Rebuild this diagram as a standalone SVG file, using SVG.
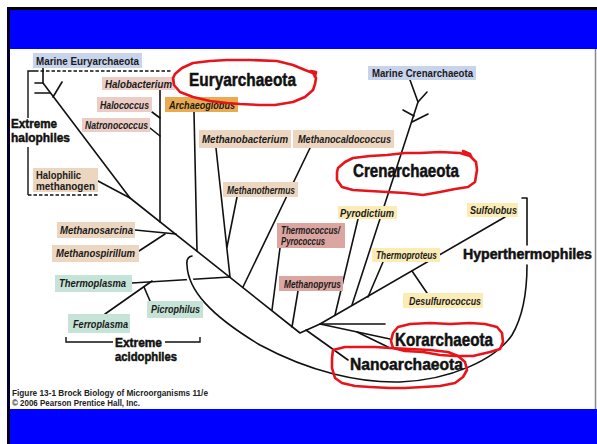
<svg xmlns="http://www.w3.org/2000/svg" width="597" height="444" viewBox="0 0 597 444">
<style>
.lb{font-family:"Liberation Sans",Arial,sans-serif;font-weight:bold;font-style:italic;font-size:10px;fill:#1a1a1a}
.lbn{font-family:"Liberation Sans",Arial,sans-serif;font-weight:bold;font-size:10px;fill:#1a1a1a}
.big{font-family:"Liberation Sans",Arial,sans-serif;font-weight:bold;fill:#111;stroke:#111;stroke-width:0.5}
.cap{font-family:"Liberation Sans",Arial,sans-serif;font-weight:bold;font-size:8.5px;fill:#222}
.ln{fill:none;stroke:#111;stroke-width:1.6;stroke-linecap:round;stroke-linejoin:round}
.red{fill:none;stroke:#e8141c;stroke-width:2.6;stroke-linejoin:round;stroke-linecap:round}
.blue{fill:#c8d3ec}.pink{fill:#ebcdc5}.tan{fill:#ecd6bf}.org{fill:#e9aa50}.sal{fill:#dba5a0}.yel{fill:#fbecb5}.grn{fill:#c5e3d6}
</style>
<rect x="0" y="0" width="597" height="444" fill="#fff"/>
<g id="frame">
<rect x="7" y="7" width="590" height="3" fill="#000"/>
<rect x="10" y="10" width="587" height="39" fill="#0000ff"/>
<rect x="10" y="409" width="587" height="35" fill="#0000ff"/>
<rect x="7" y="7" width="3" height="437" fill="#00002a"/>
<line x1="595.5" y1="49" x2="595.5" y2="409" stroke="#888" stroke-width="1.5"/>
</g>
<g id="connectors">
<polyline class="ln" points="43,68 43,83 130,198 300,333 320,324 505,217"/>
<line class="ln" x1="35" y1="83" x2="43" y2="83"/>
<line class="ln" x1="35" y1="93" x2="50" y2="93"/>
<line class="ln" x1="53" y1="97" x2="62" y2="82"/>
<line class="ln" x1="160" y1="90" x2="160" y2="222"/>
<line class="ln" x1="152" y1="112" x2="160" y2="118"/>
<line class="ln" x1="150" y1="128" x2="160" y2="136"/>
<line class="ln" x1="98" y1="181" x2="130" y2="198"/>
<line class="ln" x1="194" y1="112" x2="197" y2="251"/>
<line class="ln" x1="216" y1="148" x2="230" y2="277"/>
<line class="ln" x1="237" y1="197" x2="227" y2="247"/>
<line class="ln" x1="310" y1="148" x2="243" y2="287"/>
<line class="ln" x1="135" y1="230" x2="176" y2="234"/>
<line class="ln" x1="139" y1="251" x2="165" y2="234"/>
<line class="ln" x1="132" y1="283" x2="230" y2="277"/>
<line class="ln" x1="105" y1="314" x2="152" y2="281"/>
<line class="ln" x1="150" y1="301" x2="144" y2="287"/>
<line class="ln" x1="280" y1="248" x2="272" y2="310"/>
<line class="ln" x1="298" y1="291" x2="292" y2="327"/>
<line class="ln" x1="358" y1="219" x2="335" y2="315"/>
<polyline class="ln" points="410,80 418,102 352,305"/>
<line class="ln" x1="418" y1="102" x2="427" y2="92"/>
<line class="ln" x1="403" y1="110" x2="414" y2="116"/>
<line class="ln" x1="412" y1="122" x2="428" y2="114"/>
<line class="ln" x1="383" y1="262" x2="368" y2="297"/>
<line class="ln" x1="412" y1="271" x2="427" y2="293"/>
<line class="ln" x1="320" y1="324" x2="385" y2="324"/>
<line class="ln" x1="320" y1="324" x2="390" y2="339"/>
<line class="ln" x1="357" y1="332" x2="388" y2="347"/>
<line class="ln" x1="306" y1="330" x2="348" y2="360"/>
<path d="M192,256 Q186,257 187,265 C188,290 210,315 260,345 C310,372 360,383 400,382 C450,380 495,360 512,335 C522,318 527,295 527,265" fill="none" stroke="#fff" stroke-width="6"/>
<path class="ln" d="M192,256 Q186,257 187,265 C188,290 210,315 260,345 C310,372 360,383 400,382 C450,380 495,360 512,335 C522,318 527,295 527,265"/>
<polyline class="ln" points="522,198 527,198 527,245"/>
<polyline fill="none" stroke="#111" stroke-width="1.4" points="35,71 28,71 28,118"/>
<line stroke="#111" stroke-width="1.4" x1="28" y1="147" x2="28" y2="195"/>
<line stroke="#111" stroke-width="1.4" stroke-dasharray="3.5 2" x1="35" y1="71" x2="172" y2="71"/>
<line stroke="#111" stroke-width="1.4" stroke-dasharray="3.5 2" x1="28" y1="195" x2="98" y2="195"/>
<polyline fill="none" stroke="#111" stroke-width="1.4" points="66,337 66,342 113,342"/>
<polyline fill="none" stroke="#111" stroke-width="1.4" points="165,342 200,342 200,337"/>
</g>
<g id="marine-eury"><rect class="blue" x="33" y="53" width="109" height="15"/><text class="lbn" x="36" y="64.5" textLength="103" lengthAdjust="spacingAndGlyphs">Marine Euryarchaeota</text></g>
<g id="halobacterium"><rect class="pink" x="102" y="77" width="73" height="13"/><text class="lb" x="105" y="87.5" textLength="67" lengthAdjust="spacingAndGlyphs">Halobacterium</text></g>
<g id="halococcus"><rect class="pink" x="97" y="97" width="55" height="15"/><text class="lb" x="100" y="108.5" textLength="49" lengthAdjust="spacingAndGlyphs">Halococcus</text></g>
<g id="natronococcus"><rect class="pink" x="82" y="118" width="68" height="14"/><text class="lb" x="85" y="129" textLength="63" lengthAdjust="spacingAndGlyphs">Natronococcus</text></g>
<g id="halophilic-methanogen"><rect class="tan" x="33" y="168" width="65" height="24"/><text class="lbn" x="36" y="179" textLength="45" lengthAdjust="spacingAndGlyphs">Halophilic</text><text class="lbn" x="36" y="190" textLength="59" lengthAdjust="spacingAndGlyphs">methanogen</text></g>
<g id="extreme-halophiles"><text class="big" font-size="13.5" x="11" y="128" textLength="46" lengthAdjust="spacingAndGlyphs">Extreme</text><text class="big" font-size="13.5" x="11" y="142" textLength="59" lengthAdjust="spacingAndGlyphs">halophiles</text></g>
<g id="archaeoglobus"><rect class="org" x="165" y="97" width="73" height="15"/><text class="lb" x="169" y="108.5" textLength="66" lengthAdjust="spacingAndGlyphs">Archaeoglobus</text></g>
<g id="methanobacterium"><rect class="tan" x="199" y="130" width="92" height="18"/><text class="lb" x="202" y="142.5" textLength="86" lengthAdjust="spacingAndGlyphs">Methanobacterium</text></g>
<g id="methanocaldococcus"><rect class="tan" x="293" y="130" width="101" height="18"/><text class="lb" x="298" y="142.5" textLength="93" lengthAdjust="spacingAndGlyphs">Methanocaldococcus</text></g>
<g id="methanothermus"><rect class="tan" x="223" y="182" width="75" height="15"/><text class="lb" x="227" y="193.5" textLength="68" lengthAdjust="spacingAndGlyphs">Methanothermus</text></g>
<g id="thermococcus"><rect class="sal" x="277" y="223" width="68" height="25"/><text class="lb" x="281" y="234" textLength="59" lengthAdjust="spacingAndGlyphs">Thermococcus/</text><text class="lb" x="281" y="245" textLength="44" lengthAdjust="spacingAndGlyphs">Pyrococcus</text></g>
<g id="methanopyrus"><rect class="sal" x="279" y="276" width="64" height="15"/><text class="lb" x="284" y="287.5" textLength="57" lengthAdjust="spacingAndGlyphs">Methanopyrus</text></g>
<g id="methanosarcina"><rect class="tan" x="57" y="222" width="78" height="16"/><text class="lb" x="60" y="233.5" textLength="73" lengthAdjust="spacingAndGlyphs">Methanosarcina</text></g>
<g id="methanospirillum"><rect class="tan" x="52" y="245" width="87" height="17"/><text class="lb" x="56" y="257" textLength="79" lengthAdjust="spacingAndGlyphs">Methanospirillum</text></g>
<g id="thermoplasma"><rect class="grn" x="55" y="275" width="77" height="17"/><text class="lb" x="59" y="287" textLength="67" lengthAdjust="spacingAndGlyphs">Thermoplasma</text></g>
<g id="picrophilus"><rect class="grn" x="147" y="301" width="56" height="17"/><text class="lb" x="151" y="313" textLength="49" lengthAdjust="spacingAndGlyphs">Picrophilus</text></g>
<g id="ferroplasma"><rect class="grn" x="68" y="314" width="62" height="19"/><text class="lb" x="73" y="327.5" textLength="55" lengthAdjust="spacingAndGlyphs">Ferroplasma</text></g>
<g id="extreme-acidophiles"><text class="big" font-size="13" x="115" y="347" textLength="47" lengthAdjust="spacingAndGlyphs">Extreme</text><text class="big" font-size="13" x="115" y="361" textLength="62" lengthAdjust="spacingAndGlyphs">acidophiles</text></g>
<g id="marine-cren"><rect class="blue" x="368" y="66" width="108" height="14"/><text class="lbn" x="372" y="76.5" textLength="101" lengthAdjust="spacingAndGlyphs">Marine Crenarchaeota</text></g>
<g id="pyrodictium"><rect class="yel" x="338" y="206" width="59" height="13"/><text class="lb" x="340" y="216.5" textLength="54" lengthAdjust="spacingAndGlyphs">Pyrodictium</text></g>
<g id="thermoproteus"><rect class="yel" x="372" y="248" width="68" height="14"/><text class="lb" font-size="8.5" x="376" y="258.5" textLength="61" lengthAdjust="spacingAndGlyphs">Thermoproteus</text></g>
<g id="sulfolobus"><rect class="yel" x="467" y="203" width="51" height="14"/><text class="lb" x="470" y="214" textLength="47" lengthAdjust="spacingAndGlyphs">Sulfolobus</text></g>
<g id="desulfurococcus"><rect class="yel" x="403" y="293" width="80" height="15"/><text class="lb" x="409" y="304.5" textLength="72" lengthAdjust="spacingAndGlyphs">Desulfurococcus</text></g>
<g id="hyperthermophiles"><text class="big" font-size="14" x="463" y="259" textLength="129" lengthAdjust="spacingAndGlyphs">Hyperthermophiles</text></g>
<g id="euryarchaeota"><text class="big" font-size="18" x="189" y="86" textLength="107" lengthAdjust="spacingAndGlyphs">Euryarchaeota</text>
<path class="red" d="M175,74 L182,68 L193,63 L210,61 L227,60 L250,60 L277,61 L293,65 L305,70 L313,73 L316,78 L315,84 L313,90 L305,97 L293,102 L275,105 L260,105 L240,104 L227,103 L210,101 L193,97 L180,92 L174,85 L173,78 Z M311,71 L316,72 L315,77"/></g>
<g id="crenarchaeota"><text class="big" font-size="18" x="353" y="177" textLength="106" lengthAdjust="spacingAndGlyphs">Crenarchaeota</text>
<path class="red" d="M338,168 L345,162 L353,158 L370,156 L387,155 L405,153 L420,153 L440,152 L460,153 L470,156 L476,162 L477,170 L475,182 L468,187 L455,189 L440,192 L423,195 L405,193 L387,192 L370,191 L353,190 L342,187 L337,180 L337,172 Z M463,151 L470,154 L472,158"/></g>
<g id="korarchaeota"><text class="big" font-size="18" x="395" y="346" textLength="98" lengthAdjust="spacingAndGlyphs">Korarchaeota</text>
<path class="red" d="M391,341 L393,333 L398,327 L410,324 L430,323 L450,324 L470,323 L485,324 L497,327 L502,333 L503,342 L500,349 L490,352 L473,356 L455,356 L440,355 L423,352 L405,351 L393,348 Z"/></g>
<g id="nanoarchaeota"><text class="big" font-size="17" x="350" y="370" textLength="113" lengthAdjust="spacingAndGlyphs">Nanoarchaeota</text>
<path class="red" d="M333,350 L345,347 L360,347 L375,347 L390,348 L410,349 L430,350 L448,352 L458,356 L465,362 L467,370 L463,377 L455,383 L440,386 L423,387 L405,388 L390,388 L370,387 L355,386 L342,383 L335,378 L332,368 L332,358 Z"/></g>
<g id="caption"><text class="cap" x="12" y="396" textLength="196" lengthAdjust="spacingAndGlyphs">Figure 13-1  Brock Biology of Microorganisms 11/e</text><text class="cap" x="12" y="406" textLength="128" lengthAdjust="spacingAndGlyphs">© 2006 Pearson Prentice Hall, Inc.</text></g>
</svg>
